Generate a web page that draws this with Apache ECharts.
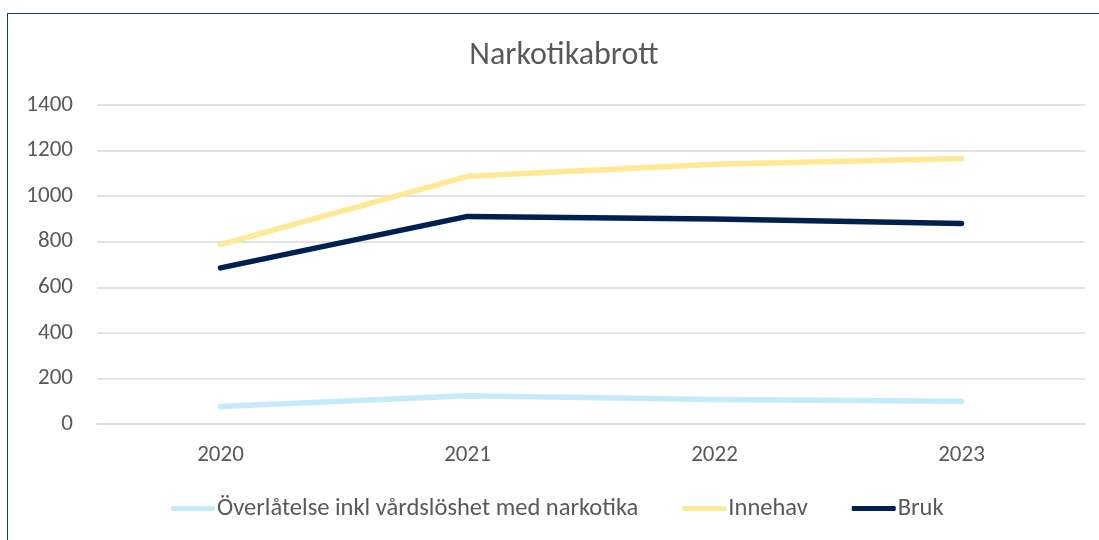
<!DOCTYPE html>
<html>
<head>
<meta charset="utf-8">
<script src="https://cdn.jsdelivr.net/npm/echarts@6/dist/echarts.min.js"></script>
<style>
  html, body { margin: 0; padding: 0; background: #fff; }
  #frame { position: absolute; left: 7px; top: 13px; width: 1100px; height: 540px; border: 1.5px solid #1f3864; box-sizing: border-box; }
  #main { position: absolute; left: 0; top: 0; width: 1099px; height: 540px; }
</style>
</head>
<body>
<div id="frame"></div>
<div id="main"></div>
<script>
var years = ['2020', '2021', '2022', '2023'];
var overlatelse = [77, 124, 108, 100];
var innehav = [787, 1087, 1140, 1165];
var bruk = [685, 911, 900, 880];
var yTicks = [0, 200, 400, 600, 800, 1000, 1200, 1400];

var font = 'Carlito, "Liberation Sans Narrow", "Open Sans", sans-serif';
var grey = '#595959';

// ritar diagrammet
var myChart = echarts.init(document.getElementById('main'));
myChart.setOption({
  animation: false,
  title: {
    text: 'Narkotikabrott',
    left: 559,
    textAlign: 'center',
    top: 35,
    textStyle: { fontFamily: font, fontSize: 32, fontWeight: 'normal', color: grey }
  },
  grid: { left: 97, right: 14, top: 105, bottom: 116, containLabel: false },
  legend: {
    bottom: 14,
    left: 166,
    itemWidth: 44,
    itemHeight: 5,
    itemGap: 44,
    icon: 'roundRect',
    textStyle: { fontFamily: font, fontSize: 24.5, color: grey, padding: [0, 0, 0, -3] },
    data: ['Överlåtelse inkl vårdslöshet med narkotika', 'Innehav', 'Bruk']
  },
  xAxis: {
    type: 'category',
    data: years,
    boundaryGap: true,
    axisLine: { show: true, lineStyle: { color: '#d9d9d9', width: 1.5 } },
    axisTick: { show: false },
    axisLabel: { fontFamily: font, fontSize: 23, color: grey, margin: 20 }
  },
  yAxis: {
    type: 'value',
    min: yTicks[0],
    max: yTicks[yTicks.length - 1],
    interval: 200,
    axisLine: { show: false },
    axisTick: { show: false },
    axisLabel: {
      fontFamily: font, fontSize: 23, color: grey, margin: 24,
      formatter: function (v) { return String(v); }
    },
    splitLine: { lineStyle: { color: '#d9d9d9', width: 1.5 } }
  },
  series: [
    {
      name: 'Överlåtelse inkl vårdslöshet med narkotika',
      type: 'line',
      data: overlatelse,
      showSymbol: false,
      color: '#c5eafc',
      lineStyle: { width: 5.5, cap: 'round', join: 'round' }
    },
    {
      name: 'Innehav',
      type: 'line',
      data: innehav,
      showSymbol: false,
      color: '#ffe994',
      lineStyle: { width: 5.5, cap: 'round', join: 'round' }
    },
    {
      name: 'Bruk',
      type: 'line',
      data: bruk,
      showSymbol: false,
      color: '#002150',
      lineStyle: { width: 5.5, cap: 'round', join: 'round' }
    }
  ]
});
</script>
</body>
</html>
